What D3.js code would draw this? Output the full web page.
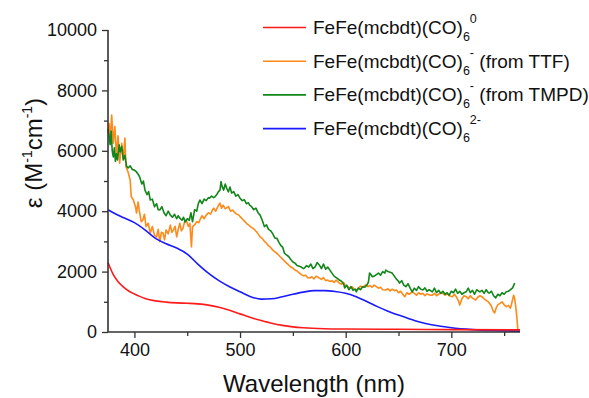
<!DOCTYPE html>
<html>
<head>
<meta charset="utf-8">
<script src="https://cdn.jsdelivr.net/npm/d3@7"></script>
<style>
  body { margin: 0; background: #fff; }
  svg { display: block; font-family: 'Liberation Sans', Arial, sans-serif; }
</style>
</head>
<body>
<svg id="chart"></svg>
<script>
const width = 589, height = 398;
const margin = { top: 30, right: 69, bottom: 66, left: 108 };

// wavelength (nm), epsilon (M-1 cm-1)
const neutralWl = [375, 380, 385, 390, 395, 400, 405, 410, 420, 430, 440, 450, 460, 470, 480, 490, 500, 510, 520, 530, 540, 550, 560, 580, 600, 650, 700, 765];
const neutralEps = [2300, 1900, 1650, 1480, 1350, 1260, 1180, 1110, 1030, 990, 965, 950, 930, 890, 820, 720, 600, 480, 380, 290, 220, 170, 140, 110, 100, 90, 80, 70];

const dianionWl = [375, 380, 390, 400, 410, 420, 430, 440, 450, 460, 470, 480, 490, 500, 510, 520, 530, 540, 550, 560, 570, 580, 590, 600, 610, 620, 630, 640, 650, 660, 670, 680, 690, 700, 720, 740, 765];
const dianionEps = [4050, 3950, 3780, 3620, 3380, 3100, 2920, 2780, 2580, 2250, 1950, 1700, 1500, 1330, 1170, 1090, 1100, 1170, 1250, 1320, 1370, 1370, 1340, 1280, 1170, 1010, 840, 690, 560, 440, 330, 250, 190, 140, 80, 50, 30];

const ttfWl = [375, 376, 377, 378.5, 380, 381.5, 383, 384.5, 386, 388, 389.5, 391, 392, 394, 396, 397, 399, 401, 402, 403.5, 405, 406.5, 408, 409.5, 411, 413, 415, 417, 419, 421, 422.5, 424, 425.5, 427, 428.5, 430, 432, 434, 435.5, 437, 438.5, 440, 441.5, 443, 444.5, 446, 447.5, 449, 451, 452.5, 454, 455, 457, 459, 461, 462, 464, 466, 468, 470, 472, 474, 475, 477, 479, 481, 482.5, 484, 486, 487, 489, 491, 493, 495, 497, 499, 500, 502, 504, 506, 508, 510, 512, 514, 516, 519, 521, 523, 525, 527, 529, 531, 533, 535, 538, 540, 542, 544, 546, 548, 550, 552, 554, 556, 558, 560, 562, 564, 566, 568, 570, 572, 575, 577, 579, 581, 583, 585, 587, 589, 591, 594, 596, 598, 600, 602, 604, 606, 608, 610, 612, 614, 616, 619, 621, 623, 625, 627, 629, 631, 633, 635, 638, 640, 642, 644, 646, 648, 650, 652, 654, 656, 658, 660, 663, 665, 667, 669, 671, 673, 675, 677, 679, 682, 684, 686, 688, 690, 692, 694, 696, 698, 701, 703, 705, 706.5, 708, 710, 712, 714, 716, 718, 720, 723, 725, 727, 729, 731, 733, 735, 736, 738, 739.5, 741, 742.5, 744, 746, 748, 750, 752, 754, 756, 757.5, 759, 760, 761, 762, 763];
const ttfEps = [6600, 6900, 6400, 7180, 6250, 6800, 5800, 6500, 5590, 6250, 5700, 6420, 5470, 5300, 5030, 4480, 4370, 4150, 3940, 4300, 3940, 3650, 3710, 3900, 3490, 3600, 3280, 3490, 3200, 3150, 3400, 2990, 3300, 3280, 3050, 3380, 3250, 3540, 3300, 3380, 3500, 3150, 3400, 3600, 3350, 3440, 3650, 3710, 3500, 3600, 2820, 3490, 3550, 3650, 3620, 3710, 3850, 3750, 3870, 3950, 3900, 4050, 4100, 4000, 4150, 4270, 4100, 4200, 4080, 4100, 4150, 4000, 4040, 3950, 3900, 3870, 3820, 3750, 3680, 3600, 3550, 3480, 3440, 3380, 3300, 3150, 3100, 3000, 2940, 2850, 2800, 2710, 2650, 2600, 2490, 2420, 2350, 2280, 2220, 2150, 2120, 2050, 2020, 1960, 1900, 1860, 1880, 1800, 1790, 1830, 1760, 1850, 1790, 1740, 1800, 1700, 1720, 1670, 1700, 1640, 1720, 1620, 1580, 1640, 1520, 1500, 1460, 1500, 1420, 1390, 1450, 1520, 1480, 1560, 1500, 1540, 1480, 1550, 1500, 1450, 1480, 1400, 1390, 1430, 1360, 1420, 1370, 1390, 1300, 1350, 1250, 1170, 1300, 1250, 1330, 1280, 1220, 1300, 1250, 1280, 1200, 1260, 1230, 1220, 1280, 1200, 1250, 1300, 1280, 1220, 1260, 1200, 1170, 1250, 1150, 1050, 890, 1100, 1200, 1170, 1100, 1200, 1120, 1060, 1150, 1200, 1170, 1100, 1050, 1000, 950, 850, 700, 630, 800, 900, 950, 1000, 900, 840, 880, 790, 1000, 1220, 1100, 840, 500, 60];

const tmpdWl = [375, 376, 377, 378, 379, 380, 381, 382, 383, 384, 385.5, 386.5, 388, 389.5, 391, 392.5, 394, 396, 398, 400, 402, 404, 405, 407, 408.5, 410, 412, 413.5, 415, 417, 419, 421, 422.5, 424, 426, 428, 430, 432, 434, 436, 438, 440, 441.5, 443, 445, 446.5, 448, 450, 452, 453.5, 455, 457, 459, 460.5, 462, 464, 466, 468, 470, 471, 473, 475, 476, 478, 479.5, 481, 482, 483, 484.5, 486, 487.5, 489, 490.5, 492, 494, 496, 498, 500, 502, 504, 506, 508, 509, 511, 513, 515, 517, 519, 521, 523, 525, 527, 529, 531, 533, 535, 537, 539, 540.5, 542, 544, 546, 548, 550, 552, 554, 556, 558, 560, 561, 563, 565, 567, 569, 571, 573, 575, 577, 579, 581, 583, 585, 587, 589, 591, 593, 594, 596, 598, 599, 601, 603, 605, 607, 609, 610, 612, 614, 616, 618, 620, 621.5, 622.6, 624, 625, 627, 629, 631, 633, 635, 637, 638, 640, 642, 644, 646, 648, 650, 651, 653, 655, 657, 659, 661, 663, 665, 667, 669, 671, 673, 675, 677, 679, 682, 684, 686, 688, 690, 692, 694, 696, 698, 700, 702, 704, 706, 708, 710, 712, 714, 716, 718, 720, 722, 724, 727, 729, 731, 733, 735, 736, 738, 740, 742, 744, 746, 748, 750, 752, 754, 756, 758, 760];
const tmpdEps = [6720, 6500, 6200, 6650, 6000, 5800, 6100, 5650, 5900, 5700, 6200, 5960, 6150, 5700, 5850, 5500, 5430, 5500, 5380, 5360, 5300, 5200, 5130, 4900, 5000, 4700, 4550, 4650, 4370, 4400, 4150, 4250, 4050, 4040, 4150, 3950, 3850, 4000, 3870, 3800, 3900, 3750, 3850, 3770, 3700, 3800, 3640, 3750, 3700, 3950, 3650, 4050, 4000, 4250, 4370, 4250, 4400, 4350, 4450, 4430, 4500, 4450, 4470, 4550, 4650, 4700, 4980, 4820, 4700, 4900, 4750, 4640, 4800, 4600, 4650, 4500, 4550, 4430, 4350, 4380, 4250, 4280, 4200, 4150, 4050, 4100, 3950, 3870, 3700, 3490, 3550, 3400, 3350, 3250, 3110, 3100, 2950, 2850, 2800, 2610, 2550, 2500, 2400, 2320, 2280, 2200, 2180, 2150, 2100, 2120, 2200, 2150, 2250, 2100, 2160, 2300, 2220, 2100, 2250, 2080, 2150, 2050, 1950, 1850, 1800, 1750, 1720, 1680, 1600, 1460, 1550, 1400, 1500, 1380, 1420, 1330, 1450, 1400, 1500, 1480, 1550, 1650, 1950, 1900, 1830, 1850, 1900, 1950, 1880, 2000, 1950, 2050, 2000, 1980, 1950, 1850, 1750, 1680, 1620, 1700, 1550, 1500, 1600, 1450, 1330, 1450, 1380, 1500, 1420, 1390, 1460, 1350, 1400, 1330, 1450, 1300, 1380, 1280, 1350, 1250, 1300, 1220, 1350, 1300, 1420, 1280, 1350, 1250, 1300, 1330, 1450, 1300, 1380, 1250, 1400, 1330, 1380, 1280, 1400, 1300, 1290, 1350, 1200, 1130, 1250, 1200, 1300, 1250, 1330, 1350, 1400, 1460, 1620];

const xTicks = [400, 500, 600, 700];
const yTicks = [0, 2000, 4000, 6000, 8000, 10000];

const seriesNames = ['FeFe(mcbdt)(CO)', 'FeFe(mcbdt)(CO)', 'FeFe(mcbdt)(CO)', 'FeFe(mcbdt)(CO)'];
const seriesSup = ['0', '-', '-', '2-'];
const seriesTail = ['', ' (from TTF)', ' (from TMPD)', ''];
const seriesColors = ['#ff1a1a', '#ff8a1a', '#12861a', '#1a1aff'];

const series = [
  { wl: neutralWl, eps: neutralEps, smooth: true },
  { wl: ttfWl, eps: ttfEps, smooth: false },
  { wl: tmpdWl, eps: tmpdEps, smooth: false },
  { wl: dianionWl, eps: dianionEps, smooth: true }
];
// noisy spectra first, smooth ones on top
const drawOrder = [1, 2, 3, 0];

const svg = d3.select('#chart').attr('width', width).attr('height', height);

const x = d3.scaleLinear().domain([375, 765]).range([margin.left, width - margin.right]);
const y = d3.scaleLinear().domain([0, 10000]).range([height - margin.bottom, margin.top]);

// Curves
drawOrder.forEach(i => {
  const s = series[i];
  const pts = s.wl.map((w, k) => [w, s.eps[k]]);
  const line = d3.line()
    .x(d => x(d[0]))
    .y(d => y(d[1]))
    .curve(s.smooth ? d3.curveMonotoneX : d3.curveLinear);
  svg.append('path')
    .datum(pts)
    .attr('fill', 'none')
    .attr('stroke', seriesColors[i])
    .attr('stroke-width', 1.6)
    .attr('stroke-linejoin', 'round')
    .attr('d', line);
});

// Axes
const axisColor = '#333';
const xAxis = svg.append('g')
  .attr('transform', `translate(0,${height - margin.bottom})`)
  .call(d3.axisBottom(x).tickValues(xTicks).tickSize(6).tickPadding(5).tickFormat(d3.format('d')));
svg.append('g')
  .attr('transform', `translate(0,${height - margin.bottom})`)
  .call(d3.axisBottom(x).tickValues([450, 550, 650, 750]).tickSize(4).tickFormat(''))
  .call(g => g.select('.domain').remove());

const yAxis = svg.append('g')
  .attr('transform', `translate(${margin.left},0)`)
  .call(d3.axisLeft(y).tickValues(yTicks).tickSize(6).tickPadding(5).tickFormat(d3.format('d')));
svg.append('g')
  .attr('transform', `translate(${margin.left},0)`)
  .call(d3.axisLeft(y).tickValues([1000, 3000, 5000, 7000, 9000]).tickSize(4).tickFormat(''))
  .call(g => g.select('.domain').remove());

// plain axis lines without end caps
xAxis.select('.domain').attr('d', `M${x(375)},0H${x(765)}`);
yAxis.select('.domain').attr('d', `M0,${y(0)}V${y(10000)}`);
svg.selectAll('.domain').attr('stroke', axisColor).attr('stroke-width', 1.6);
svg.selectAll('.tick line').attr('stroke', axisColor).attr('stroke-width', 1.3);
svg.selectAll('.tick text').attr('fill', '#111').style('font-size', '18px');

// Axis titles
svg.append('text')
  .attr('x', (x(375) + x(765)) / 2)
  .attr('y', 392)
  .attr('text-anchor', 'middle')
  .style('font-size', '24px')
  .attr('fill', '#111')
  .text('Wavelength (nm)');

const yt = svg.append('text')
  .attr('transform', 'translate(42,153) rotate(-90)')
  .attr('text-anchor', 'middle')
  .style('font-size', '24px')
  .attr('fill', '#111');
yt.append('tspan').text('ε (M');
yt.append('tspan').attr('dy', -10).style('font-size', '14px').text('-1');
yt.append('tspan').attr('dy', 10).text('cm');
yt.append('tspan').attr('dy', -10).style('font-size', '14px').text('-1');
yt.append('tspan').attr('dy', 10).text(')');

// Legend
const legend = svg.append('g');
seriesNames.forEach((name, i) => {
  const ly = 27.5 + i * 33.7;
  legend.append('line')
    .attr('x1', 263).attr('x2', 306)
    .attr('y1', ly).attr('y2', ly)
    .attr('stroke', seriesColors[i])
    .attr('stroke-width', 1.6);
  const t = legend.append('text')
    .attr('x', 313)
    .attr('y', ly + 6.5)
    .style('font-size', '19px')
    .attr('fill', '#111');
  t.append('tspan').text(name);
  t.append('tspan').attr('dy', 7).style('font-size', '12.5px').text('6');
  t.append('tspan').attr('dy', -18).style('font-size', '12.5px').text(seriesSup[i]);
  if (seriesTail[i]) t.append('tspan').attr('dy', 11).text(seriesTail[i]);
});
</script>
</body>
</html>
